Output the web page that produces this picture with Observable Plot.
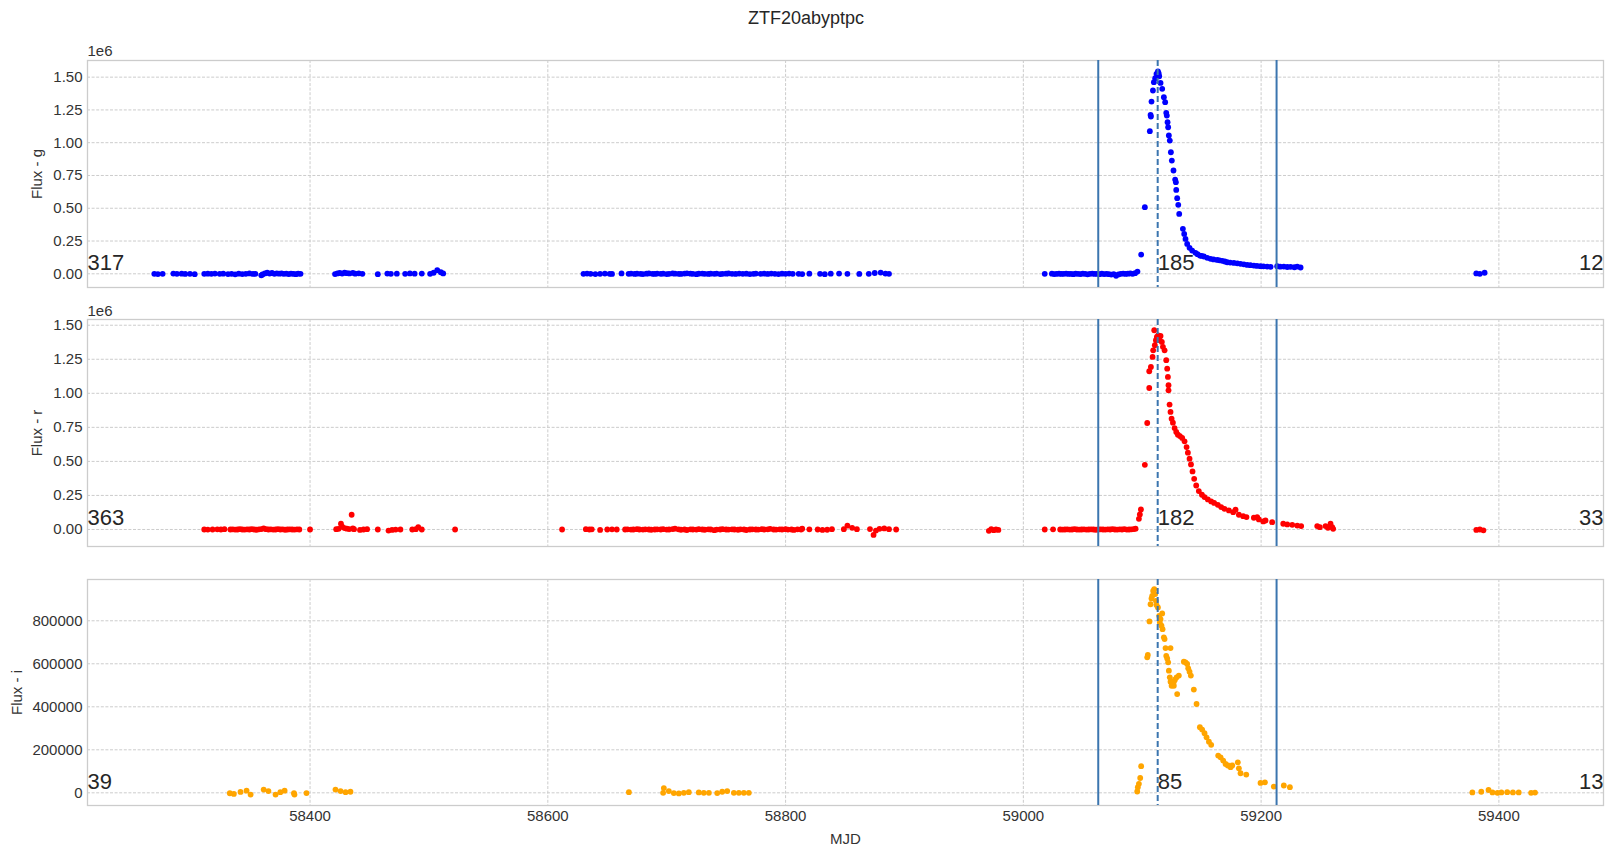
<!DOCTYPE html>
<html><head><meta charset="utf-8">
<script src="https://cdn.jsdelivr.net/npm/d3@7"></script>
<script src="https://cdn.jsdelivr.net/npm/@observablehq/plot@0.6"></script>
<style>
body{margin:0;background:#fff;}
#wrap{position:relative;width:1607px;height:845px;overflow:hidden;background:#fff;font-family:"Liberation Sans",Arial,sans-serif;}
#wrap > svg{position:absolute;left:0;}
</style></head><body><div id="wrap">
<svg id="ttl" width="1607" height="40" style="top:0"><text x="806" y="24" text-anchor="middle" font-size="18" fill="#262626" font-family="Liberation Sans, Arial, sans-serif">ZTF20abyptpc</text></svg>
</div>
<script>
// ---- data (MJD, flux in thousands) ----
const title = "ZTF20abyptpc";
const xTicks = [58400, 58600, 58800, 59000, 59200, 59400];
const windowLines = [59063, 59213];
const peakLine = [59113];
const gCounts = ["317", "185", "12"];
const rCounts = ["363", "182", "33"];
const iCounts = ["39", "85", "13"];
const gTicks = [0, 250000, 500000, 750000, 1000000, 1250000, 1500000];
const rTicks = [0, 250000, 500000, 750000, 1000000, 1250000, 1500000];
const iTicks = [0, 200000, 400000, 600000, 800000];

const gData = [
[58269,0],[58272,-2],[58276,0],
[58285,2],[58288,0],[58292,1],[58295,-1],[58299,0],[58303,-3],
[58311,0],[58314,1],[58317,0],[58320,2],[58324,0],[58327,1],
[58331,-2],[58334,0],[58337,-4],[58340,1],[58343,-2],[58346,0],[58349,3],[58352,-1],[58354,0],
[58359,-12],[58360,-5],[58362,3],[58364,8],[58366,2],[58368,6],[58370,0],[58372,4],[58374,1],[58376,3],[58378,0],[58380,2],[58382,-2],[58384,1],[58386,0],[58388,-3],[58390,1],[58392,0],
[58421,-2],[58423,3],[58425,6],[58427,2],[58429,8],[58431,5],[58433,3],[58436,7],[58438,1],[58441,4],[58444,0],
[58457,-3],
[58465,2],[58468,0],[58473,1],
[58480,0],[58484,3],[58488,1],[58494,2],
[58501,0],[58504,8],[58507,28],[58510,12],[58512,3],
[58630,0],[58633,2],[58636,0],
[58640,-2],[58644,0],[58648,2],[58652,0],[58654,-1],
[58662,3],
[58668,0],[58670,2],[58673,-1],[58675,1],[58678,0],[58680,-2],[58683,1],[58685,3],[58688,0],[58690,-1],[58692,2],[58695,0],[58697,1],[58700,-2],[58702,0],[58705,3],[58707,1],[58710,0],[58712,-1],[58715,2],[58717,4],[58720,1],[58722,0],[58725,-3],[58727,1],[58730,2],[58732,0],[58735,-1],[58737,1],[58740,0],[58742,2],[58745,-2],[58747,0],[58750,1],[58752,3],[58755,0],[58758,-1],[58761,2],[58764,0],[58767,1],[58770,-2],[58773,0],[58775,2],
[58779,0],[58782,1],[58785,-1],[58788,2],[58791,0],[58794,-2],[58797,1],[58800,0],[58803,2],[58806,0],
[58811,0],[58814,-2],[58820,1],
[58829,0],[58833,-3],[58838,1],
[58845,2],[58852,0],
[58862,-1],
[58870,0],[58875,6],[58880,9],[58884,2],[58887,0],
[59018,0],[59024,1],[59026,-2],[59028,0],[59030,1],[59032,-1],[59034,0],[59036,2],[59038,-1],[59040,0],[59042,-3],[59044,1],[59046,0],[59048,-2],[59050,1],[59052,0],[59054,-4],[59056,0],[59058,2],[59060,-1],[59062,0],[59064,-3],[59066,1],[59068,-2],[59070,0],[59072,-3],[59074,-6],[59076,-2],[59078,-15],[59080,-5],[59082,0],[59084,2],[59086,-1],[59088,1],[59090,3],[59092,0],[59094,5],[59096,17],
[59099.1,147],[59102.2,508],[59106.4,1088],[59107,1212],[59107.3,1200],[59107.8,1314],[59109,1398],[59109.8,1462],[59110.9,1492],[59112,1525],[59113.2,1543],[59113.8,1530],[59114.3,1507],[59115.4,1456],[59116.8,1411],[59118.2,1347],[59119.3,1309],[59120.2,1228],[59120.7,1207],[59121.3,1156],[59121.8,1118],[59122.4,1055],[59123.2,1016],[59124.1,927],[59124.9,864],[59126.3,788],[59127.7,719],[59128.3,699],[59128.6,640],[59129.4,577],[59130.3,526],[59131.1,457],[59134.2,343],[59135.3,304],[59136.4,266],[59137.8,228],[59139.8,198],[59142,177],[59144.8,160],[59146.5,150],[59148.5,139],[59150,136],[59151.9,132],[59154.7,122],[59157.5,114],[59160,110],[59163.1,106],[59165,103],[59167.3,99],[59169.5,94],[59171.5,88],[59174,86],[59177.1,83],[59180,80],[59182.7,76],[59185.5,72],[59188.3,68],[59191,66],[59193.9,63],[59196.5,60],[59199.5,58],[59202,57],[59205.1,55],[59208,53],
[59213.5,58],[59216,54],[59219.1,55],[59222,52],[59224.8,53],[59228,50],[59230.4,55],[59233.2,48],
[59381,3],[59384,0],[59388,8]
];

const rData = [
[58311,0],[58314,-1],[58318,0],[58322,1],[58325,0],
[58328,2],
[58333,0],[58335,1],[58337,-1],[58339,0],[58341,2],[58343,0],[58345,-1],[58347,1],[58349,0],[58351,2],[58353,0],[58355,-2],[58357,1],[58359,3],[58361,8],[58363,2],[58365,0],[58367,1],[58369,-1],[58371,0],[58373,2],[58375,0],[58377,1],[58379,-2],[58381,0],[58383,1],[58385,0],[58387,-1],[58389,1],[58391,0],
[58400,0],
[58422,2],[58424,5],[58426,42],[58427,20],[58429,10],[58431,6],[58433,3],[58435,108],[58436,8],[58437,2],
[58442,-3],[58445,0],[58448,2],
[58457,0],
[58466,-8],[58469,-3],[58472,-1],[58476,0],
[58486,0],[58489,2],[58491,17],[58494,0],
[58522,0],
[58612,0],
[58632,2],[58635,0],[58637,1],
[58644,-3],
[58650,0],[58654,1],[58658,0],
[58665,0],[58667,1],[58670,-1],[58672,0],[58675,2],[58677,0],[58680,-1],[58682,1],[58685,0],[58687,-2],[58690,0],[58692,1],[58695,0],[58697,2],[58700,-1],[58702,0],[58705,3],[58707,6],[58710,1],[58712,-2],[58715,0],[58717,-4],[58720,1],[58722,0],[58725,-1],[58727,2],[58730,0],[58732,-2],[58735,1],[58737,0],[58740,-5],[58742,-1],[58745,0],[58747,2],[58750,0],[58752,-1],[58755,1],[58757,0],[58760,-2],[58762,1],[58765,0],[58767,-4],[58770,0],[58772,1],[58775,0],[58777,-1],[58780,2],[58782,0],[58785,1],[58787,5],[58790,0],[58792,-1],[58795,1],[58797,0],[58800,2],[58802,-1],[58805,0],[58807,-3],[58810,1],[58813,0],
[58814,6],[58820,1],
[58827,0],[58831,-3],[58835,-2],[58839,2],
[58849,2],[58852,28],[58856,12],[58860,2],
[58871,3],[58874,-40],[58876,-8],[58879,5],[58883,8],[58887,2],
[58893,0],
[58971,-10],[58973,2],[58975,-5],[58977,0],[58979,-3],
[59018,0],[59025,1],[59031,0],[59033,-1],[59035,0],[59037,1],[59039,-1],[59041,0],[59043,2],[59045,0],[59047,-1],[59049,0],[59051,1],[59053,-1],[59055,0],[59057,1],[59059,0],[59061,-2],[59063,0],[59065,1],[59067,0],[59069,-1],[59071,1],[59073,0],[59075,2],[59077,0],[59079,-1],[59081,1],[59083,0],[59085,2],[59087,-1],[59089,0],[59091,1],[59093,3],[59094.4,6],
[59097.2,78],[59098,110],[59098.9,147],[59102.2,475],[59104.2,782],[59105.9,1039],[59105.9,1162],[59107.3,1194],[59108.7,1267],[59109.2,1316],[59110.1,1463],[59110.6,1353],[59111.5,1390],[59112.3,1414],[59113.4,1426],[59114.6,1390],[59115.4,1421],[59116.5,1377],[59117.4,1341],[59118.8,1316],[59120.2,1243],[59121,1181],[59121.6,1120],[59122.1,1059],[59122.1,1022],[59123,917],[59123.8,863],[59124.7,814],[59125.8,784],[59127.2,745],[59128.6,716],[59130,696],[59131.7,686],[59133.6,672],[59135.6,647],[59137.3,605],[59138.4,564],[59139.8,520],[59141,478],[59142.3,426],[59143.7,372],[59145.4,323],[59147.6,282],[59150.2,255],[59152.4,238],[59155.2,221],[59158,206],[59160.5,195],[59163.6,181],[59166.4,164],[59169.2,152],[59172.9,140],[59176.5,127],[59178.5,145],[59181.3,108],[59184.9,98],[59187.7,91],[59193.9,86],[59196.7,91],[59198.1,74],[59201.8,59],[59203.7,66],[59209.3,54],
[59218.6,42],[59222,37],[59226.2,34],[59230.4,29],[59233.7,25],[59247.2,25],[59249.4,17],[59254.2,25],[59256.2,12],[59258.4,42],[59259.8,17],[59260.6,5],
[59381,-3],[59384,0],[59387,-6]
];

const iData = [
[58332.5,-2],[58335.9,-5],[58341.5,4],[58346.6,10],[58350,-8],
[58361,15],[58365,8],[58371,-8],[58375,3],[58378.6,10],
[58386.5,-2],[58386.9,-8],[58397,-1],
[58421.4,15],[58425.7,8],[58429.9,3],[58434,5],
[58668.2,3],
[58697,0],[58697.6,22],[58701.8,8],[58706,-1],[58710.2,-3],[58714.4,0],[58718.6,3],
[58727,2],[58731.2,0],[58735.5,0],
[58742.5,-1],[58746.7,5],[58750.9,8],
[58756.5,0],[58760.7,0],[58764.9,0],[58769.1,0],
[59095.8,6],[59096.3,26],[59097.2,42],[59098.3,69],[59099.1,124],
[59104.2,630],[59104.7,641],[59106.1,797],[59107,877],[59107.8,904],[59108.4,916],[59109.2,939],[59110.1,947],[59110.9,924],[59111.5,893],[59112,873],[59113.2,862],[59114.3,823],[59114.8,792],[59115.4,808],[59116.2,777],[59116.8,834],[59117.1,761],[59118.2,723],[59118.8,715],[59119.6,673],[59123.8,673],[59120.2,637],[59121,625],[59121.8,607],[59122.4,568],[59123.2,537],[59123.8,517],[59124.7,498],[59125.5,514],[59126.6,517],[59126.6,498],[59127.5,526],[59128.9,537],[59130.8,545],[59129.4,459],
[59135,610],[59136.4,607],[59137.8,599],[59138.7,579],[59139.8,563],[59140.9,545],[59143.4,480],[59145.7,413],
[59148.5,305],[59150.4,294],[59152.4,277],[59154.1,258],[59156.1,238],[59158,223],
[59163.9,173],[59165.9,165],[59168.1,150],[59170.1,134],[59172,127],[59174.3,119],[59175.7,127],[59180.4,142],[59181.3,114],[59182.7,91],[59187.5,85],
[59199.5,46],[59203.2,49],[59210.7,29],
[59219.1,34],[59224.2,26],
[59377.7,2],[59385.2,5],[59391.3,13],[59394.6,2],[59398.8,0],[59402.1,2],[59407,3],[59411.8,2],[59416.7,2],[59427.1,0],[59430.4,1]
];

// ---- drawing ----
const xDomain = [58212.8, 59488];
const lineColor = "#3b75af";
const gridStyle = {stroke: "#cccccc", strokeOpacity: 1, strokeWidth: 1, strokeDasharray: "3,1.6"};
const toRows = d => d.map(([mjd, k]) => ({mjd, flux: k * 1000}));

function panel(o) {
  const rows = toRows(o.data);
  const labelsStart = [{x: xDomain[0], t: o.counts[0]}, {x: peakLine[0], t: o.counts[1]}];
  const labelsEnd = [{x: xDomain[1], t: o.counts[2]}];
  const marks = [
    Plot.gridX(xTicks, gridStyle),
    Plot.gridY(o.yTicks, gridStyle),
    Plot.frame({stroke: "#cccccc", strokeWidth: 1.3}),
    Plot.axisY(o.yTicks, {tickSize: 0, tickPadding: 5, tickFormat: o.yFormat, label: null, fill: "#333"}),
    Plot.dot(rows, {x: "mjd", y: "flux", r: 2.9, fill: o.color, stroke: "none"}),
    Plot.ruleX(windowLines, {stroke: lineColor, strokeWidth: 2}),
    Plot.ruleX(peakLine, {stroke: lineColor, strokeWidth: 2, strokeDasharray: "6,3"}),
    Plot.text(labelsStart, {x: "x", y: () => 0, text: "t", textAnchor: "start", lineAnchor: "bottom", dy: -4, fontSize: 22, fill: "#262626"}),
    Plot.text(labelsEnd, {x: "x", y: () => 0, text: "t", textAnchor: "end", lineAnchor: "bottom", dy: -4, fontSize: 22, fill: "#262626"}),
    Plot.text([o.ylabel], {frameAnchor: "left", rotate: -90, dx: o.labelDx, textAnchor: "middle", lineAnchor: "middle", fill: "#333"})
  ];
  if (o.offsetText) marks.push(Plot.text([o.offsetText], {frameAnchor: "top-left", textAnchor: "start", lineAnchor: "bottom", dy: o.offsetDy, fill: "#333"}));
  if (o.showX) {
    marks.push(Plot.axisX(xTicks, {tickSize: 0, tickPadding: 5, tickFormat: d3.format("d"), label: null, fill: "#333"}));
    marks.push(Plot.text(["MJD"], {frameAnchor: "bottom", lineAnchor: "bottom", dy: 38, fill: "#333"}));
  }
  const svg = Plot.plot({
    width: 1607, height: o.height,
    marginLeft: 87, marginRight: 4, marginTop: o.marginTop, marginBottom: o.marginBottom,
    style: {fontFamily: "Liberation Sans, Arial, sans-serif", fontSize: "15px", color: "#333", background: "transparent", overflow: "visible"},
    x: {domain: xDomain, axis: o.showX ? undefined : null},
    y: {domain: o.yDomain},
    marks
  });
  svg.style.top = o.top + "px";
  svg.style.position = "absolute";
  svg.style.left = "0px";
  document.getElementById("wrap").appendChild(svg);
}

const fmt6 = d => (d / 1e6).toFixed(2);
panel({data: gData, color: "#0000ff", yDomain: [-104500, 1627000], yTicks: gTicks, yFormat: fmt6, ylabel: "Flux - g", labelDx: -50, counts: gCounts,
  top: 40, height: 250, marginTop: 20, marginBottom: 3, offsetText: "1e6", offsetDy: -5});
panel({data: rData, color: "#ff0000", yDomain: [-125000, 1542000], yTicks: rTicks, yFormat: fmt6, ylabel: "Flux - r", labelDx: -50, counts: rCounts,
  top: 295, height: 254, marginTop: 24, marginBottom: 3, offsetText: "1e6", offsetDy: -4});
panel({data: iData, color: "#ffa500", yDomain: [-59000, 992000], yTicks: iTicks, yFormat: d3.format("d"), ylabel: "Flux - i", labelDx: -70, counts: iCounts,
  top: 555, height: 290, marginTop: 24, marginBottom: 40, showX: true});
</script>
</body></html>
